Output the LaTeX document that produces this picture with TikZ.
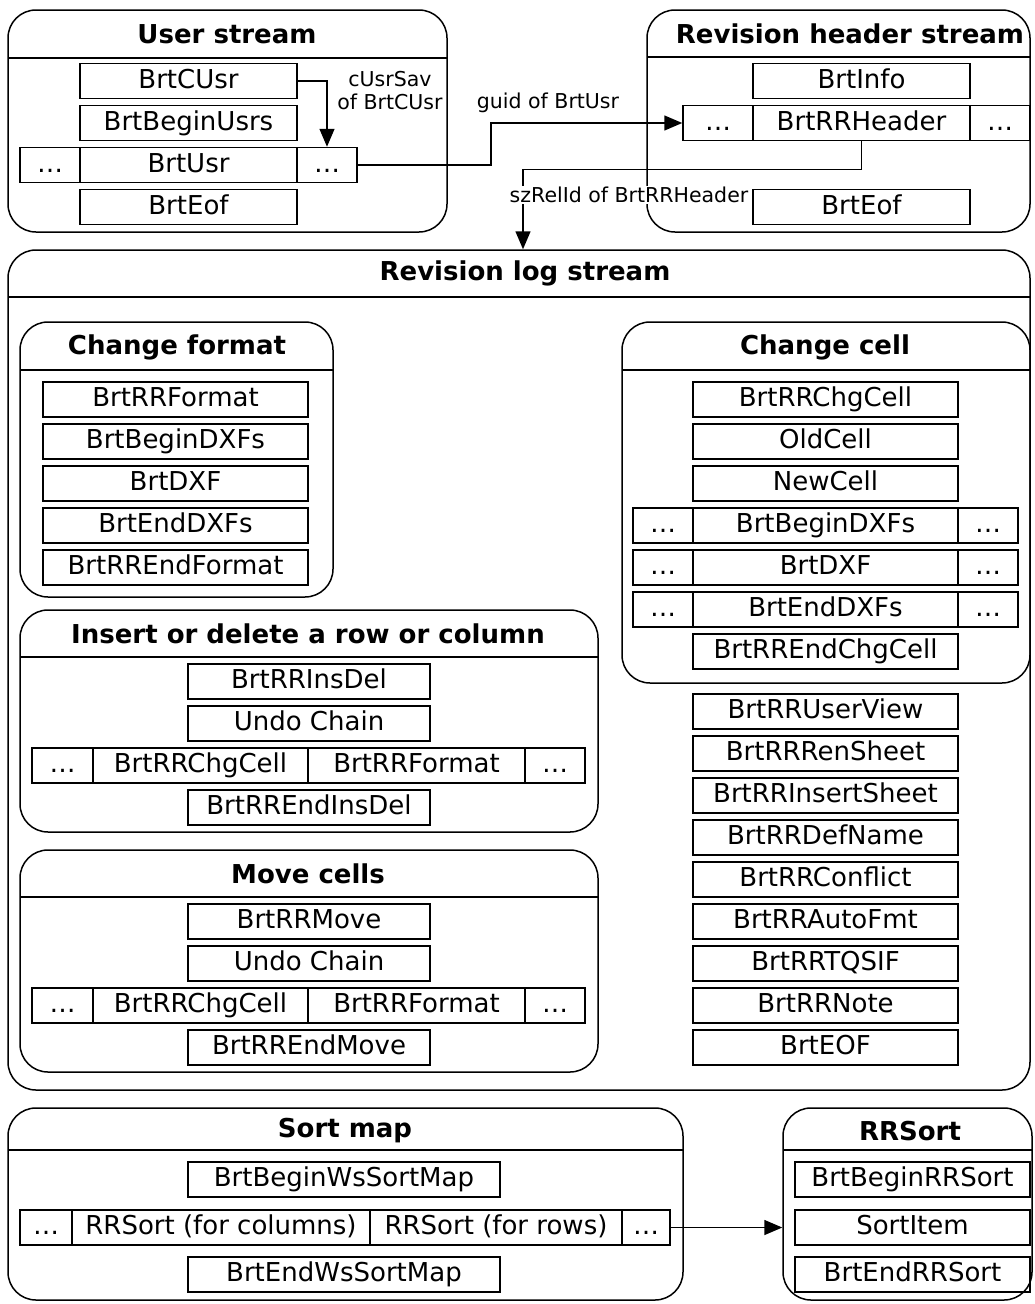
\documentclass[tikz,border=0pt]{standalone}
\usepackage{fontspec}
\setmainfont{DejaVu Sans}
\usetikzlibrary{arrows.meta,positioning,calc}

\tikzset{
  cell/.style={draw, line width=1.5pt, inner sep=0pt, minimum height=35pt,
    text height=19pt, text depth=5pt, font=\fontsize{26}{30}\selectfont},
  frame/.style={draw, line width=1.5pt, rounded corners=28pt, inner sep=0pt},
  rule/.style={line width=1.5pt},
  heading/.style={font=\fontsize{26}{30}\selectfont\bfseries},
  note/.style={font=\fontsize{20.5}{23}\selectfont, align=center, inner sep=1pt},
  arr/.style={line width=1.5pt, -{Triangle[length=18pt,width=15pt]}}
}

\begin{document}
\begin{tikzpicture}[x=1pt, y=-1pt]
  \useasboundingbox (0,0) rectangle (1035,1304);

  % user stream
  \node[frame, minimum width=439, minimum height=222] (usrs) at (227.5,121) {};
  \draw[rule] (8,58) -- (447,58);
  \node[heading] (usrsT) at (227,34) {User stream};
  \node[cell, minimum width=217] (cusr) at (188.5,81) {BrtCUsr};
  \node[cell, minimum width=217] (busrs) at (188.5,123) {BrtBeginUsrs};
  \node[cell, minimum width=60] (usrL) at (50,165) {\dots};
  \node[cell, minimum width=217] (usr) at (188.5,165) {BrtUsr};
  \node[cell, minimum width=60] (usrR) at (327,165) {\dots};
  \node[cell, minimum width=217] (ueof) at (188.5,207) {BrtEof};

  % revision header stream
  \node[frame, minimum width=383, minimum height=222] (hdrs) at (838.5,121) {};
  \draw[rule] (647,57) -- (1030,57);
  \node[heading] (hdrsT) at (850,34) {Revision header stream};
  \node[cell, minimum width=217] (info) at (861.5,81) {BrtInfo};
  \node[cell, minimum width=70] (hdrL) at (718,123) {\dots};
  \node[cell, minimum width=217] (hdr) at (861.5,123) {BrtRRHeader};
  \node[cell, minimum width=60] (hdrR) at (1000,123) {\dots};
  \node[cell, minimum width=217] (heof) at (861.5,207) {BrtEof};

  % revision log stream
  \node[frame, minimum width=1022, minimum height=840] (log) at (519,670) {};
  \draw[rule] (8,297) -- (1030,297);
  \node[heading] (logT) at (525,273) {Revision log stream};

  % links between the streams
  \draw[arr] (cusr.east) -| (usrR.north);
  \node[note] (savL) at (390,91) {cUsrSav\\of BrtCUsr};
  \draw[arr] (usrR.east) -- ++(133,0) |- (hdrL.west);
  \node[note] (guidL) at (548,103) {guid of BrtUsr};
  \draw[arr] (hdr.south) -- ++(0,28) -| ([xshift=4pt]log.north);
  \node[note, fill=white] (relL) at (629,195) {szRelId of BrtRRHeader};

  % change format
  \node[frame, minimum width=313, minimum height=275] (fmt) at (176.5,459.5) {};
  \draw[rule] (20,370) -- (333,370);
  \node[heading] (fmtT) at (177,347) {Change format};
  \node[cell, minimum width=265] (ffmt) at (175.5,399.5) {BrtRRFormat};
  \node[cell, minimum width=265] (fbdxf) at (175.5,441.5) {BrtBeginDXFs};
  \node[cell, minimum width=265] (fdxf) at (175.5,483.5) {BrtDXF};
  \node[cell, minimum width=265] (fedxf) at (175.5,525.5) {BrtEndDXFs};
  \node[cell, minimum width=265] (fend) at (175.5,567.5) {BrtRREndFormat};

  % change cell
  \node[frame, minimum width=408, minimum height=361] (chg) at (826,502.5) {};
  \draw[rule] (622,370) -- (1030,370);
  \node[heading] (chgT) at (825,347) {Change cell};
  \node[cell, minimum width=265] (cchg) at (825.5,399.5) {BrtRRChgCell};
  \node[cell, minimum width=265] (cold) at (825.5,441.5) {OldCell};
  \node[cell, minimum width=265] (cnew) at (825.5,483.5) {NewCell};
  \node[cell, minimum width=60] (cbL) at (663,525.5) {\dots};
  \node[cell, minimum width=265] (cbdxf) at (825.5,525.5) {BrtBeginDXFs};
  \node[cell, minimum width=60] (cbR) at (988,525.5) {\dots};
  \node[cell, minimum width=60] (cdL) at (663,567.5) {\dots};
  \node[cell, minimum width=265] (cdxf) at (825.5,567.5) {BrtDXF};
  \node[cell, minimum width=60] (cdR) at (988,567.5) {\dots};
  \node[cell, minimum width=60] (ceL) at (663,609.5) {\dots};
  \node[cell, minimum width=265] (cedxf) at (825.5,609.5) {BrtEndDXFs};
  \node[cell, minimum width=60] (ceR) at (988,609.5) {\dots};
  \node[cell, minimum width=265] (cend) at (825.5,651.5) {BrtRREndChgCell};

  % other records
  \node[cell, minimum width=265] (uview) at (825.5,711.5) {BrtRRUserView};
  \node[cell, minimum width=265] (rensh) at (825.5,753.5) {BrtRRRenSheet};
  \node[cell, minimum width=265] (inssh) at (825.5,795.5) {BrtRRInsertSheet};
  \node[cell, minimum width=265] (defn) at (825.5,837.5) {BrtRRDefName};
  \node[cell, minimum width=265] (confl) at (825.5,879.5) {BrtRRConflict};
  \node[cell, minimum width=265] (autof) at (825.5,921.5) {BrtRRAutoFmt};
  \node[cell, minimum width=265] (tqsif) at (825.5,963.5) {BrtRRTQSIF};
  \node[cell, minimum width=265] (rnote) at (825.5,1005.5) {BrtRRNote};
  \node[cell, minimum width=265] (leof) at (825.5,1047.5) {BrtEOF};

  % insert or delete
  \node[frame, minimum width=578, minimum height=222] (ins) at (309,721) {};
  \draw[rule] (20,657) -- (598,657);
  \node[heading] (insT) at (308,634) {Insert or delete a row or column};
  \node[cell, minimum width=242] (iins) at (309,681.5) {BrtRRInsDel};
  \node[cell, minimum width=242] (iundo) at (309,723.5) {Undo Chain};
  \node[cell, minimum width=61] (iL) at (62.5,765.5) {\dots};
  \node[cell, minimum width=215] (ichg) at (200.5,765.5) {BrtRRChgCell};
  \node[cell, minimum width=217] (ifmt) at (416.5,765.5) {BrtRRFormat};
  \node[cell, minimum width=60] (iR) at (555,765.5) {\dots};
  \node[cell, minimum width=242] (iend) at (309,807.5) {BrtRREndInsDel};

  % move cells
  \node[frame, minimum width=578, minimum height=222] (mov) at (309,961) {};
  \draw[rule] (20,897) -- (598,897);
  \node[heading] (movT) at (308,874) {Move cells};
  \node[cell, minimum width=242] (mmov) at (309,921.5) {BrtRRMove};
  \node[cell, minimum width=242] (mundo) at (309,963.5) {Undo Chain};
  \node[cell, minimum width=61] (mL) at (62.5,1005.5) {\dots};
  \node[cell, minimum width=215] (mchg) at (200.5,1005.5) {BrtRRChgCell};
  \node[cell, minimum width=217] (mfmt) at (416.5,1005.5) {BrtRRFormat};
  \node[cell, minimum width=60] (mR) at (555,1005.5) {\dots};
  \node[cell, minimum width=242] (mend) at (309,1047.5) {BrtRREndMove};

  % sort map
  \node[frame, minimum width=675, minimum height=192] (smap) at (345.5,1204) {};
  \draw[rule] (8,1150) -- (683,1150);
  \node[heading] (smapT) at (345,1131) {Sort map};
  \node[cell, minimum width=312] (sbeg) at (344,1179.5) {BrtBeginWsSortMap};
  \node[cell, minimum width=52] (sL) at (46,1227.5) {\dots};
  \node[cell, minimum width=298] (scol) at (221,1227.5) {RRSort (for columns)};
  \node[cell, minimum width=252] (srow) at (496,1227.5) {RRSort (for rows)};
  \node[cell, minimum width=48] (sR) at (646,1227.5) {\dots};
  \node[cell, minimum width=312] (send) at (344,1274.5) {BrtEndWsSortMap};

  % rrsort
  \node[frame, minimum width=249, minimum height=192] (rrs) at (907.5,1204) {};
  \draw[rule] (783,1150) -- (1032,1150);
  \node[heading] (rrsT) at (910,1131) {RRSort};
  \node[cell, minimum width=235] (rbeg) at (912.5,1179.5) {BrtBeginRRSort};
  \node[cell, minimum width=235] (ritem) at (912.5,1227.5) {SortItem};
  \node[cell, minimum width=235] (rend) at (912.5,1274.5) {BrtEndRRSort};
  \draw[arr] (sR.east) -- (sR.east -| rrs.west);
\end{tikzpicture}
\end{document}
